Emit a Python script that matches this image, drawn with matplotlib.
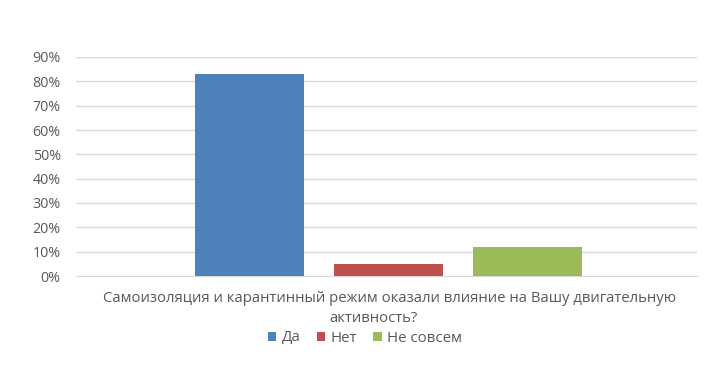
import matplotlib
matplotlib.use("Agg")
import matplotlib.pyplot as plt
from matplotlib.ticker import PercentFormatter, MultipleLocator
from matplotlib.patches import Patch

series = ["Да", "Нет", "Не совсем"]
values = [83, 5, 12]
colors = ["#4F81BD", "#C0504D", "#9BBB59"]
category_line1 = "Самоизоляция и карантинный режим оказали влияние на Вашу двигательную"
category_line2 = "активность?"

plt.rcParams['font.family'] = ['Open Sans', 'DejaVu Sans']
txt = "#595959"

fig = plt.figure(figsize=(7.16, 3.65), dpi=100)
ax = fig.add_axes([76/716, 1-276/365, (697-76)/716, (276-57)/365])

xs = [0, 1, 2]
ax.bar(xs, values, width=0.784, color=colors, zorder=3)
ax.set_xlim(-1.25, 3.22)
ax.set_ylim(0, 90)
ax.yaxis.set_major_locator(MultipleLocator(10))
ax.yaxis.set_major_formatter(PercentFormatter(decimals=0))
ax.grid(axis='y', color="#D9D9D9", linewidth=1, zorder=0)
ax.set_xticks([])
for s in ["top", "right", "left"]:
    ax.spines[s].set_visible(False)
ax.spines["bottom"].set_color("#D9D9D9")
ax.tick_params(axis='y', length=0, labelsize=10.3, labelcolor=txt, pad=11)

cx = 390 / 716
fig.text(cx, 1-298/365, category_line1, ha='center', va='center', fontsize=10.7, color=txt)
fig.text(374/716, 1-319/365, category_line2, ha='center', va='center', fontsize=10.7, color=txt)

handles = [Patch(facecolor=c, label=s) for c, s in zip(colors, series)]
fig.legend(handles=handles, loc='center', bbox_to_anchor=(365/716, 1-338/365), ncol=3,
           frameon=False, fontsize=10.8, labelcolor=txt, handlelength=0.55, handleheight=0.55,
           handletextpad=0.35, columnspacing=1.1)

fig.savefig("out.png", dpi=100, facecolor="white")
